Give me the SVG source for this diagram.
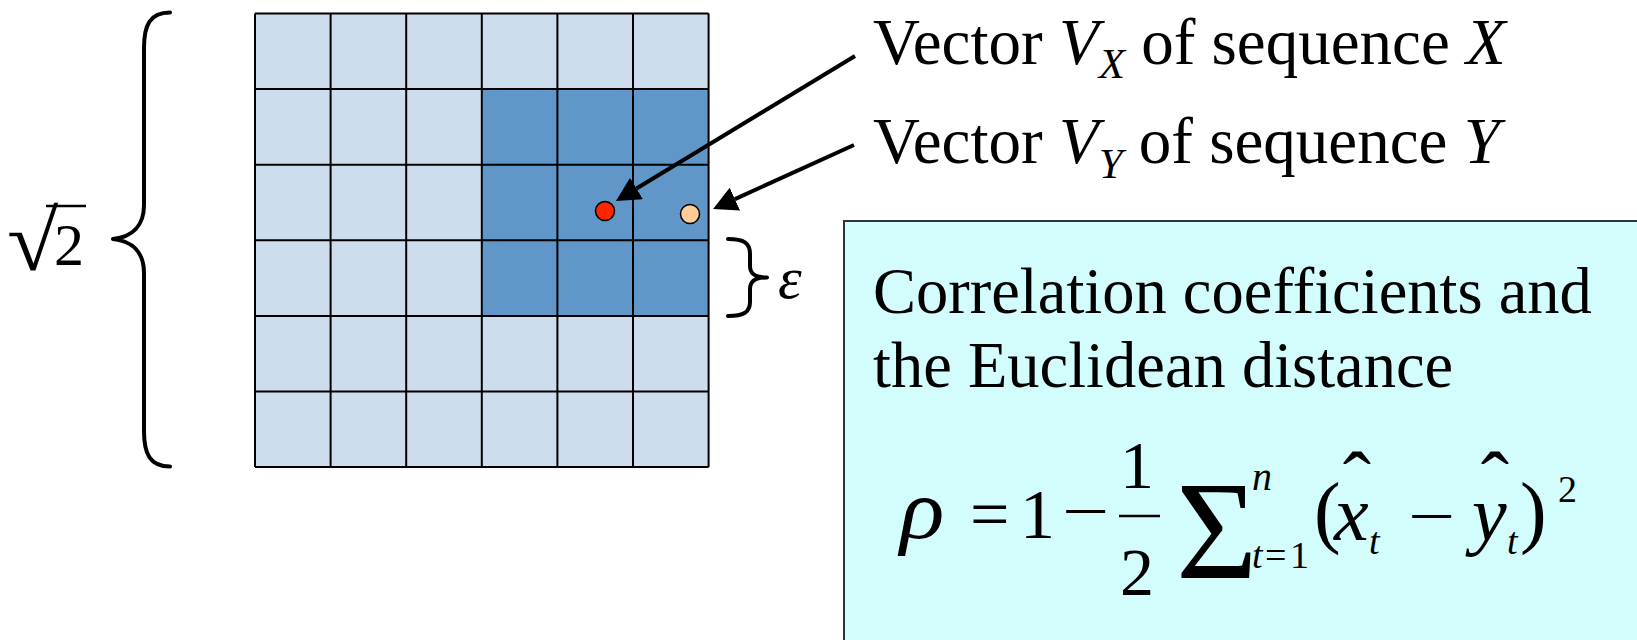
<svg xmlns="http://www.w3.org/2000/svg" width="1637" height="640" viewBox="0 0 1637 640">
<defs>
<style>
.t{font-family:"Liberation Serif","Times New Roman",serif;fill:#000}
.i{font-style:italic}
.grid{stroke:#000;stroke-width:2;fill:none}
.brace{fill:none;stroke:#000;stroke-width:4;stroke-linecap:round;stroke-linejoin:round}
.conn{stroke:#000;stroke-width:4;fill:none}
</style>
<marker id="ah" markerUnits="userSpaceOnUse" viewBox="0 0 24 25" refX="0" refY="12.5" markerWidth="24" markerHeight="25" orient="auto">
<path d="M0,0 L24,12.5 L0,25 z" fill="#000"/>
</marker>
</defs>
<rect width="1637" height="640" fill="#fff"/>

<g id="grid">
<rect x="255" y="13.5" width="453.6" height="453.6" fill="#CEDDED"/>
<rect x="481.8" y="89.1" width="226.8" height="226.8" fill="#6096C8"/>
<path class="grid" d="M255,13.5H708.6M255,89.1H708.6M255,164.7H708.6M255,240.3H708.6M255,315.9H708.6M255,391.5H708.6M255,467.1H708.6M255,13.5V467.1M330.6,13.5V467.1M406.2,13.5V467.1M481.8,13.5V467.1M557.4,13.5V467.1M633,13.5V467.1M708.6,13.5V467.1"/>
</g>

<g id="dot-vx">
<circle cx="605" cy="211" r="9.5" fill="#FF2400" stroke="#000" stroke-width="1.5"/>
</g>
<g id="dot-vy">
<circle cx="690" cy="214" r="9.5" fill="#FFCC99" stroke="#000" stroke-width="1.5"/>
</g>

<g id="brace-sqrt2">
<path class="brace" d="M170,12.5 C150,12.5 144,25 144,48 L144,205 C144,226 132,237 113,239 C132,241 144,252 144,273 L144,431 C144,454 150,466.5 170,466.5"/>
<text class="t" transform="translate(7,270) scale(1.1,1)" font-size="85">√</text>
<line x1="46" y1="206" x2="86" y2="206" stroke="#000" stroke-width="2.5"/>
<text class="t" x="54" y="265" font-size="60">2</text>
</g>

<g id="brace-eps">
<path class="brace" d="M728,239 C744,239 750,243 750,254 L750,266 C750,274 755,277.5 767,277.5 C755,277.5 750,281 750,289 L750,302 C750,312 744,316 728,316"/>
<text class="t i" x="778" y="298" font-size="60">ε</text>
</g>

<g id="label-vx">
<text class="t" x="873" y="64" font-size="65">Vector <tspan class="i">V</tspan><tspan class="i" font-size="43" dy="14">X</tspan><tspan dy="-14"> of sequence </tspan><tspan class="i">X</tspan></text>
</g>
<g id="label-vy">
<text class="t" x="873" y="163" font-size="65">Vector <tspan class="i">V</tspan><tspan class="i" font-size="43" dy="15">Y</tspan><tspan dy="-15"> of sequence </tspan><tspan class="i">Y</tspan></text>
</g>

<g id="formula-box">
<rect x="844" y="221" width="800" height="430" fill="#D3FCFD" stroke="#333" stroke-width="2"/>
<text class="t" x="873" y="313" font-size="64.5">Correlation coefficients and</text>
<text class="t" x="873" y="387" font-size="64.5">the Euclidean distance</text>
<text class="t i" transform="translate(900,538) scale(1.1,1)" font-size="84">ρ</text>
<text class="t" x="970" y="538" font-size="70">=</text>
<text class="t" x="1020" y="538" font-size="70">1</text>
<text class="t" transform="translate(1062,532) scale(1.35,1)" font-size="62">−</text>
<text class="t" x="1120" y="488" font-size="68">1</text>
<line x1="1119" y1="516" x2="1160" y2="516" stroke="#000" stroke-width="2.5"/>
<text class="t" x="1120" y="595" font-size="68">2</text>
<text class="t" x="1176" y="578" font-size="140">Σ</text>
<text class="t i" x="1252" y="490" font-size="40">n</text>
<text class="t i" x="1252" y="568" font-size="38">t</text>
<text class="t" x="1265" y="568" font-size="38">=</text>
<text class="t" x="1290" y="568" font-size="38">1</text>
<text class="t" x="1314" y="538" font-size="80">(</text>
<text class="t i" x="1334" y="540" font-size="78">x</text>
<text class="t" x="1357" y="510" font-size="85" text-anchor="middle">ˆ</text>
<text class="t i" x="1369" y="554" font-size="38">t</text>
<text class="t" transform="translate(1408,537) scale(1.35,1)" font-size="62">−</text>
<text class="t i" x="1472" y="540" font-size="78">y</text>
<text class="t" x="1495" y="510" font-size="85" text-anchor="middle">ˆ</text>
<text class="t i" x="1507" y="554" font-size="38">t</text>
<text class="t" x="1520" y="538" font-size="80">)</text>
<text class="t" x="1558" y="502" font-size="38">2</text>
</g>

<g id="connectors">
<line class="conn" x1="855" y1="56" x2="636.5" y2="188.5" marker-end="url(#ah)"/>
<line class="conn" x1="854" y1="145" x2="734.9" y2="199.1" marker-end="url(#ah)"/>
</g>
</svg>
